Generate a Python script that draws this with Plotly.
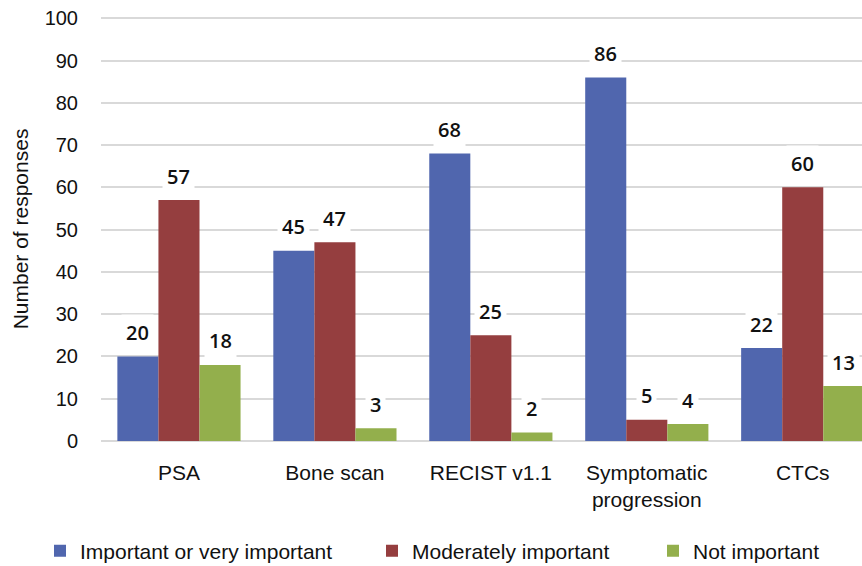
import plotly.graph_objects as go
import numpy as np

categories = ["PSA", "Bone scan", "RECIST v1.1", "Symptomatic<br>progression", "CTCs"]
important = [20, 45, 68, 86, 22]
moderate = [57, 47, 25, 5, 60]
not_important = [18, 3, 2, 4, 13]
series_names = ["Important or very important", "Moderately important", "Not important"]
colors = ["#5066AE", "#953E3F", "#93AF4C"]
y_ticks = list(range(0, 101, 10))

x = np.arange(len(categories))
bargap = 0.21
bw = (1 - bargap) / 3

fig = go.Figure()
all_series = [important, moderate, not_important]
legends = ["legend", "legend2", "legend3"]
for j, (name, vals, col) in enumerate(zip(series_names, all_series, colors)):
    fig.add_trace(go.Bar(x=x, y=vals, name=name, marker_color=col,
                         marker_line_width=0, legend=legends[j], showlegend=True))
    for i, v in enumerate(vals):
        fig.add_annotation(x=x[i] + (j - 1) * bw, y=v, xref="x", yref="y",
                           text=str(v), showarrow=False, yshift=24,
                           yanchor="middle", bgcolor="white", borderpad=4,
                           font=dict(family="Open Sans", size=20, color="#111",
                                     weight=600))

W, H = 862, 566
ml, mr, mt, mb = 101, 0, 17, 566 - 441
leg_y = 1 - 551 / H

leg_common = dict(orientation="h", yanchor="middle", y=leg_y,
                  xref="container", yref="container", xanchor="left",
                  font=dict(family="Liberation Sans", size=21, color="#111"),
                  bgcolor="rgba(0,0,0,0)", itemwidth=30)

fig.update_layout(
    width=W, height=H, showlegend=True,
    margin=dict(l=ml, r=mr, t=mt, b=mb, autoexpand=False),
    plot_bgcolor="white", paper_bgcolor="white",
    barmode="group", bargap=bargap, bargroupgap=0,
    font=dict(family="Liberation Sans", color="#111"),
    legend=dict(x=40 / W, **leg_common),
    legend2=dict(x=372 / W, **leg_common),
    legend3=dict(x=653 / W, **leg_common),
    xaxis=dict(range=[-0.5, 4.38], tickvals=x, ticktext=categories,
               showgrid=False, showline=False, ticks="", zeroline=False,
               tickfont=dict(size=21, color="#111"), ticklabelstandoff=17),
    yaxis=dict(range=[0, 100.3], tickvals=y_ticks, showgrid=True,
               gridcolor="#D9D9D9", gridwidth=2, zeroline=True,
               zerolinecolor="#D9D9D9", zerolinewidth=2, showline=False,
               ticks="", tickfont=dict(size=20, color="#111"), ticklabelstandoff=22,
               title=dict(text="Number of responses", font=dict(size=21, color="#111"),
                          standoff=10)),
)

# remove the browser's default 8px body margin so the figure fills the window
fig.write_html("out.html", config={"displayModeBar": False},
               post_script="document.body.style.margin='0';")
